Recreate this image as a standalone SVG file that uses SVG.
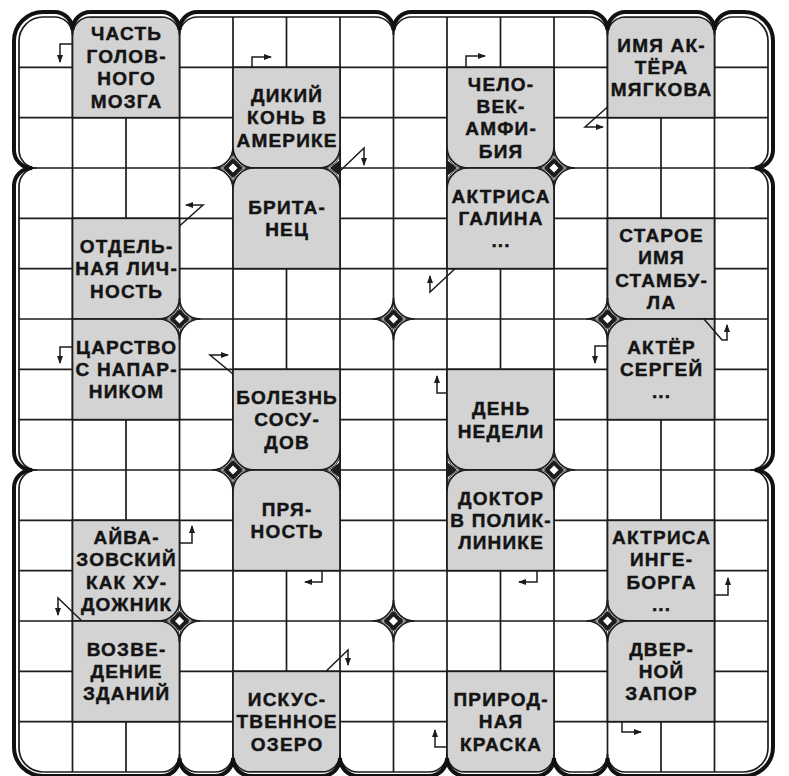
<svg xmlns="http://www.w3.org/2000/svg" width="789" height="776" viewBox="0 0 789 776">
<style>
.g{stroke:#1c1c1c;stroke-width:1.7;fill:none}
.c{fill:#d3d3d3;stroke:#1c1c1c;stroke-width:1.7}
.t{font-family:"Liberation Sans",Arial,sans-serif;font-weight:bold;font-size:19px;letter-spacing:1.2px;text-anchor:middle;fill:#141414;stroke:#141414;stroke-width:0.45}
.a{fill:none;stroke:#1c1c1c;stroke-width:1.5;marker-end:url(#ah)}
</style>
<defs>
<marker id="ah" markerWidth="8" markerHeight="6" refX="7" refY="3" orient="auto" markerUnits="userSpaceOnUse"><path d="M0,0 L8,3 L0,6 Z" fill="#1c1c1c"/></marker>
<g id="star">
<path d="M21,0 A21 21 0 0 0 0,21 A21 21 0 0 0 -21,0 A21 21 0 0 0 0,-21 A21 21 0 0 0 21,0 Z" fill="#fff" stroke="#1c1c1c" stroke-width="1.7"/>
<path d="M16,0 A16 16 0 0 0 0,16 A16 16 0 0 0 -16,0 A16 16 0 0 0 0,-16 A16 16 0 0 0 16,0 Z" fill="none" stroke="#1c1c1c" stroke-width="0.9"/>
<path d="M10,0 L0,10 L-10,0 L0,-10 Z" fill="#1c1c1c"/>
<path d="M4.5,0 L0,4.5 L-4.5,0 L0,-4.5 Z" fill="#fff"/>
</g>
<g id="half">
<path d="M0,-21 A21 21 0 0 1 -21,0 A21 21 0 0 1 0,21 Z" fill="#fff" stroke="#1c1c1c" stroke-width="1.7"/>
<path d="M0,-16 A16 16 0 0 1 -16,0 A16 16 0 0 1 0,16" fill="none" stroke="#1c1c1c" stroke-width="0.9"/>
<path d="M0,-8 L-10,0 L0,8 Z" fill="#1c1c1c"/>
</g>
</defs>
<rect width="789" height="776" fill="#fff"/>
<g id="grid">
<path class="g" d="M72.5,17V772M126,17V772M179.5,17V772M233,17V772M286.5,17V772M340,17V772M393.5,17V772M447,17V772M500.5,17V772M554,17V772M607.5,17V772M661,17V772M714.5,17V772M19,67.33H768M19,117.67H768M19,168H768M19,218.33H768M19,268.67H768M19,319H768M19,369.33H768M19,419.67H768M19,470H768M19,520.33H768M19,570.67H768M19,621H768M19,671.33H768M19,721.67H768"/>
</g>
<g id="n1"><rect class="c" x="72.5" y="17" width="107" height="100.67"/><text class="t"><tspan x="126.6" y="40.3">ЧАСТЬ</tspan><tspan x="126.6" y="62.7">ГОЛОВ-</tspan><tspan x="126.6" y="85.1">НОГО</tspan><tspan x="126.6" y="107.5">МОЗГА</tspan></text></g>
<g id="n2"><rect class="c" x="233" y="67.33" width="107" height="100.67"/><text class="t"><tspan x="287.1" y="101.7">ДИКИЙ</tspan><tspan x="287.1" y="124.1">КОНЬ В</tspan><tspan x="287.1" y="146.5">АМЕРИКЕ</tspan></text></g>
<g id="n3"><rect class="c" x="447" y="67.33" width="107" height="100.67"/><text class="t"><tspan x="501.1" y="90.5">ЧЕЛО-</tspan><tspan x="501.1" y="112.9">ВЕК-</tspan><tspan x="501.1" y="135.3">АМФИ-</tspan><tspan x="501.1" y="157.7">БИЯ</tspan></text></g>
<g id="n4"><rect class="c" x="607.5" y="17" width="107" height="100.67"/><text class="t"><tspan x="661.6" y="51.5">ИМЯ АК-</tspan><tspan x="661.6" y="73.9">ТЁРА</tspan><tspan x="661.6" y="96.3">МЯГКОВА</tspan></text></g>
<g id="n5"><rect class="c" x="233" y="168" width="107" height="100.67"/><text class="t"><tspan x="287.1" y="213.7">БРИТА-</tspan><tspan x="287.1" y="236.1">НЕЦ</tspan></text></g>
<g id="n6"><rect class="c" x="447" y="168" width="107" height="100.67"/><text class="t"><tspan x="501.1" y="202.5">АКТРИСА</tspan><tspan x="501.1" y="224.9">ГАЛИНА</tspan><tspan x="501.1" y="247.3">...</tspan></text></g>
<g id="n7"><rect class="c" x="72.5" y="218.33" width="107" height="100.67"/><text class="t"><tspan x="126.6" y="252.9">ОТДЕЛЬ-</tspan><tspan x="126.6" y="275.3">НАЯ ЛИЧ-</tspan><tspan x="126.6" y="297.7">НОСТЬ</tspan></text></g>
<g id="n8"><rect class="c" x="607.5" y="218.33" width="107" height="100.67"/><text class="t"><tspan x="661.6" y="241.7">СТАРОЕ</tspan><tspan x="661.6" y="264.1">ИМЯ</tspan><tspan x="661.6" y="286.5">СТАМБУ-</tspan><tspan x="661.6" y="308.9">ЛА</tspan></text></g>
<g id="n9"><rect class="c" x="72.5" y="319" width="107" height="100.67"/><text class="t"><tspan x="126.6" y="353.5">ЦАРСТВО</tspan><tspan x="126.6" y="375.9">С НАПАР-</tspan><tspan x="126.6" y="398.3">НИКОМ</tspan></text></g>
<g id="n10"><rect class="c" x="607.5" y="319" width="107" height="100.67"/><text class="t"><tspan x="661.6" y="353.5">АКТЁР</tspan><tspan x="661.6" y="375.9">СЕРГЕЙ</tspan><tspan x="661.6" y="398.3">...</tspan></text></g>
<g id="n11"><rect class="c" x="233" y="369.33" width="107" height="100.67"/><text class="t"><tspan x="287.1" y="403.9">БОЛЕЗНЬ</tspan><tspan x="287.1" y="426.3">СОСУ-</tspan><tspan x="287.1" y="448.7">ДОВ</tspan></text></g>
<g id="n12"><rect class="c" x="447" y="369.33" width="107" height="100.67"/><text class="t"><tspan x="501.1" y="415.1">ДЕНЬ</tspan><tspan x="501.1" y="437.5">НЕДЕЛИ</tspan></text></g>
<g id="n13"><rect class="c" x="233" y="470" width="107" height="100.67"/><text class="t"><tspan x="287.1" y="515.7">ПРЯ-</tspan><tspan x="287.1" y="538.1">НОСТЬ</tspan></text></g>
<g id="n14"><rect class="c" x="447" y="470" width="107" height="100.67"/><text class="t"><tspan x="501.1" y="504.5">ДОКТОР</tspan><tspan x="501.1" y="526.9">В ПОЛИК-</tspan><tspan x="501.1" y="549.3">ЛИНИКЕ</tspan></text></g>
<g id="n15"><rect class="c" x="72.5" y="520.33" width="107" height="100.67"/><text class="t"><tspan x="126.6" y="543.7">АЙВА-</tspan><tspan x="126.6" y="566.1">ЗОВСКИЙ</tspan><tspan x="126.6" y="588.5">КАК ХУ-</tspan><tspan x="126.6" y="610.9">ДОЖНИК</tspan></text></g>
<g id="n16"><rect class="c" x="607.5" y="520.33" width="107" height="100.67"/><text class="t"><tspan x="661.6" y="543.7">АКТРИСА</tspan><tspan x="661.6" y="566.1">ИНГЕ-</tspan><tspan x="661.6" y="588.5">БОРГА</tspan><tspan x="661.6" y="610.9">...</tspan></text></g>
<g id="n17"><rect class="c" x="72.5" y="621" width="107" height="100.67"/><text class="t"><tspan x="126.6" y="655.5">ВОЗВЕ-</tspan><tspan x="126.6" y="677.9">ДЕНИЕ</tspan><tspan x="126.6" y="700.3">ЗДАНИЙ</tspan></text></g>
<g id="n18"><rect class="c" x="607.5" y="621" width="107" height="100.67"/><text class="t"><tspan x="661.6" y="655.5">ДВЕР-</tspan><tspan x="661.6" y="677.9">НОЙ</tspan><tspan x="661.6" y="700.3">ЗАПОР</tspan></text></g>
<g id="n19"><rect class="c" x="233" y="671.33" width="107" height="100.67"/><text class="t"><tspan x="287.1" y="705.9">ИСКУС-</tspan><tspan x="287.1" y="728.3">ТВЕННОЕ</tspan><tspan x="287.1" y="750.7">ОЗЕРО</tspan></text></g>
<g id="n20"><rect class="c" x="447" y="671.33" width="107" height="100.67"/><text class="t"><tspan x="501.1" y="705.9">ПРИРОД-</tspan><tspan x="501.1" y="728.3">НАЯ</tspan><tspan x="501.1" y="750.7">КРАСКА</tspan></text></g>
<g id="decor">
<use href="#star" x="233" y="168"/>
<use href="#star" x="554" y="168"/>
<use href="#star" x="179.5" y="319"/>
<use href="#star" x="393.5" y="319"/>
<use href="#star" x="607.5" y="319"/>
<use href="#star" x="233" y="470"/>
<use href="#star" x="554" y="470"/>
<use href="#star" x="179.5" y="621"/>
<use href="#star" x="393.5" y="621"/>
<use href="#star" x="607.5" y="621"/>
<use href="#half" transform="translate(340,168)"/>
<use href="#half" transform="translate(340,470)"/>
<use href="#half" transform="translate(447,168) scale(-1,1)"/>
<use href="#half" transform="translate(447,470) scale(-1,1)"/>
</g>
<g id="frame">
<path fill="#fff" fill-rule="evenodd" d="M0,0H789V776H0Z M19,41 A24 24 0 0 1 43,17 L54.5,17 A18 18 0 0 1 72.5,35 A18 18 0 0 1 90.5,17 L161.5,17 A18 18 0 0 1 179.5,35 A18 18 0 0 1 197.5,17 L375.5,17 A18 18 0 0 1 393.5,35 A18 18 0 0 1 411.5,17 L589.5,17 A18 18 0 0 1 607.5,35 A18 18 0 0 1 625.5,17 L696.5,17 A18 18 0 0 1 714.5,35 A18 18 0 0 1 732.5,17 L744,17 A24 24 0 0 1 768,41 L768,150 A18 18 0 0 1 750,168 A18 18 0 0 1 768,186 L768,452 A18 18 0 0 1 750,470 A18 18 0 0 1 768,488 L768,748 A24 24 0 0 1 744,772 L625.5,772 A18 18 0 0 1 607.5,754 A18 18 0 0 1 589.5,772 L572,772 A18 18 0 0 1 554,754 A18 18 0 0 1 536,772 L465,772 A18 18 0 0 1 447,754 A18 18 0 0 1 429,772 L358,772 A18 18 0 0 1 340,754 A18 18 0 0 1 322,772 L251,772 A18 18 0 0 1 233,754 A18 18 0 0 1 215,772 L197.5,772 A18 18 0 0 1 179.5,754 A18 18 0 0 1 161.5,772 L43,772 A24 24 0 0 1 19,748 L19,488 A18 18 0 0 1 37,470 A18 18 0 0 1 19,452 L19,186 A18 18 0 0 1 37,168 A18 18 0 0 1 19,150 Z"/>
<path fill="none" stroke="#1c1c1c" stroke-width="1.7" d="M19,41 A24 24 0 0 1 43,17 L54.5,17 A18 18 0 0 1 72.5,35 A18 18 0 0 1 90.5,17 L161.5,17 A18 18 0 0 1 179.5,35 A18 18 0 0 1 197.5,17 L375.5,17 A18 18 0 0 1 393.5,35 A18 18 0 0 1 411.5,17 L589.5,17 A18 18 0 0 1 607.5,35 A18 18 0 0 1 625.5,17 L696.5,17 A18 18 0 0 1 714.5,35 A18 18 0 0 1 732.5,17 L744,17 A24 24 0 0 1 768,41 L768,150 A18 18 0 0 1 750,168 A18 18 0 0 1 768,186 L768,452 A18 18 0 0 1 750,470 A18 18 0 0 1 768,488 L768,748 A24 24 0 0 1 744,772 L625.5,772 A18 18 0 0 1 607.5,754 A18 18 0 0 1 589.5,772 L572,772 A18 18 0 0 1 554,754 A18 18 0 0 1 536,772 L465,772 A18 18 0 0 1 447,754 A18 18 0 0 1 429,772 L358,772 A18 18 0 0 1 340,754 A18 18 0 0 1 322,772 L251,772 A18 18 0 0 1 233,754 A18 18 0 0 1 215,772 L197.5,772 A18 18 0 0 1 179.5,754 A18 18 0 0 1 161.5,772 L43,772 A24 24 0 0 1 19,748 L19,488 A18 18 0 0 1 37,470 A18 18 0 0 1 19,452 L19,186 A18 18 0 0 1 37,168 A18 18 0 0 1 19,150 Z"/>
<path fill="none" stroke="#111" stroke-width="4" d="M14,41 A29 29 0 0 1 43,12 L54.5,12 A18 18 0 0 1 72.5,30 A18 18 0 0 1 90.5,12 L161.5,12 A18 18 0 0 1 179.5,30 A18 18 0 0 1 197.5,12 L375.5,12 A18 18 0 0 1 393.5,30 A18 18 0 0 1 411.5,12 L589.5,12 A18 18 0 0 1 607.5,30 A18 18 0 0 1 625.5,12 L696.5,12 A18 18 0 0 1 714.5,30 A18 18 0 0 1 732.5,12 L744,12 A29 29 0 0 1 773,41 L773,150 A18 18 0 0 1 755,168 A18 18 0 0 1 773,186 L773,452 A18 18 0 0 1 755,470 A18 18 0 0 1 773,488 L773,747 A29 29 0 0 1 744,776 L625.5,776 A18 18 0 0 1 607.5,758 A18 18 0 0 1 589.5,776 L572,776 A18 18 0 0 1 554,758 A18 18 0 0 1 536,776 L465,776 A18 18 0 0 1 447,758 A18 18 0 0 1 429,776 L358,776 A18 18 0 0 1 340,758 A18 18 0 0 1 322,776 L251,776 A18 18 0 0 1 233,758 A18 18 0 0 1 215,776 L197.5,776 A18 18 0 0 1 179.5,758 A18 18 0 0 1 161.5,776 L43,776 A29 29 0 0 1 14,747 L14,488 A18 18 0 0 1 32,470 A18 18 0 0 1 14,452 L14,186 A18 18 0 0 1 32,168 A18 18 0 0 1 14,150 Z"/>
</g>
<g id="connectors">
<polyline class="a" points="72.5,44 60,44 60,62"/>
<polyline class="a" points="252,67.3 252,57 271,57"/>
<polyline class="a" points="340,171 364,148 364,165"/>
<polyline class="a" points="466,67.3 466,56 485,56"/>
<polyline class="a" points="607.5,107 585,127 603,127"/>
<polyline class="a" points="179.5,226 203,205 186,205"/>
<polyline class="a" points="455,268.7 430,292 430,276"/>
<polyline class="a" points="704,319 722,340 727,340 727,325"/>
<polyline class="a" points="607.5,346 595,346 595,363"/>
<polyline class="a" points="72.5,347 60,347 60,363"/>
<polyline class="a" points="233,374 210,355 228,355"/>
<polyline class="a" points="447,393 437,393 437,376"/>
<polyline class="a" points="179.5,543 192,543 192,526"/>
<polyline class="a" points="82,621 58,598 58,615"/>
<polyline class="a" points="322,570.7 322,582 305,582"/>
<polyline class="a" points="537,570.7 537,582 519,582"/>
<polyline class="a" points="714.5,595 728,595 728,578"/>
<polyline class="a" points="326,671.3 348,650 348,665"/>
<polyline class="a" points="447,747 435,747 435,730"/>
<polyline class="a" points="622,721.7 622,732 641,732"/>
</g>
</svg>
